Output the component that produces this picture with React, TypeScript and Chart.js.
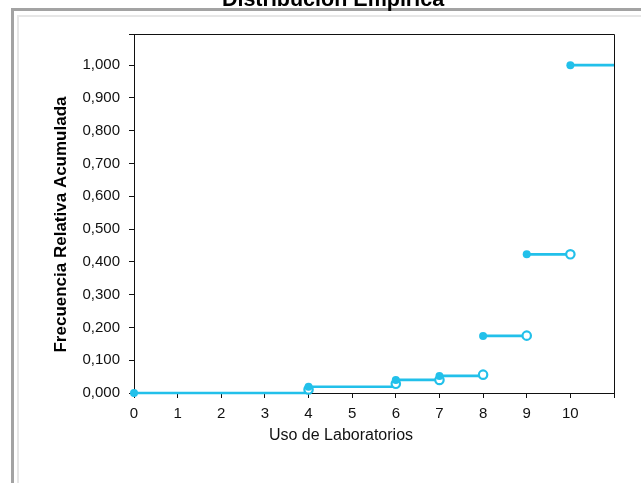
import React, { useEffect, useRef } from "react";
import { Chart, registerables } from "chart.js";

Chart.register(...registerables);

// ---- data ----
const stepStartX = [0, 4, 6, 7, 8, 9, 10];
const stepEndX = [4, 6, 7, 8, 9, 10, 11];
const cumFreq = [0, 0.019, 0.04, 0.052, 0.174, 0.423, 1.0];
const openX = [4, 6, 7, 8, 9, 10];
const openY = [0.011, 0.028, 0.04, 0.056, 0.175, 0.423];
const xTickValues = [0, 1, 2, 3, 4, 5, 6, 7, 8, 9, 10, 11];
const yTickValues = [0, 0.1, 0.2, 0.3, 0.4, 0.5, 0.6, 0.7, 0.8, 0.9, 1.0];
const xMax = 11;
const yMax = 1.095;

const chartTitle = "Distribución Empírica";
const xTitle = "Uso de Laboratorios";
const yTitle = "Frecuencia Relativa Acumulada";

const CYAN = "#22c0ea";
const FONT = "'Liberation Sans', Arial, sans-serif";

export default function App() {
  const ref = useRef<HTMLCanvasElement | null>(null);

  useEffect(() => {
    const canvas = ref.current;
    if (!canvas) return;

    const segmentSets = stepStartX.map((sx, i) => ({
      type: "line" as const,
      data: [
        { x: sx, y: cumFreq[i] },
        { x: stepEndX[i], y: cumFreq[i] },
      ],
      borderColor: CYAN,
      borderWidth: 2.7,
      pointRadius: 0,
      showLine: true,
      clip: false as any,
      order: 3,
    }));

    const filledSet = {
      type: "scatter" as const,
      data: stepStartX.map((sx, i) => ({ x: sx, y: cumFreq[i] })),
      backgroundColor: CYAN,
      borderColor: CYAN,
      pointRadius: 4,
      borderWidth: 0,
      clip: false as any,
      order: 1,
    };

    const openSet = {
      type: "scatter" as const,
      data: openX.map((ox, i) => ({ x: ox, y: openY[i] })),
      backgroundColor: "#ffffff",
      borderColor: CYAN,
      pointRadius: 4.2,
      borderWidth: 2.2,
      clip: false as any,
      order: 2,
    };

    const framePlugin = {
      id: "frame",
      beforeDraw(chart: any) {
        const ctx = chart.ctx;
        ctx.save();
        ctx.fillStyle = "#ffffff";
        ctx.fillRect(0, 0, chart.width, chart.height);
        ctx.strokeStyle = "#a3a3a3";
        ctx.lineWidth = 3;
        ctx.strokeRect(12.5, 9.5, 800, 700);
        ctx.strokeStyle = "#e6e6e6";
        ctx.lineWidth = 2;
        ctx.strokeRect(18, 16, 800, 700);
        ctx.restore();
      },
      afterDraw(chart: any) {
        const ctx = chart.ctx;
        const a = chart.chartArea;
        ctx.save();
        ctx.strokeStyle = "#111";
        ctx.lineWidth = 1;
        ctx.beginPath();
        ctx.moveTo(a.left, Math.round(a.top) + 0.5);
        ctx.lineTo(Math.round(a.right) + 0.5, Math.round(a.top) + 0.5);
        ctx.lineTo(Math.round(a.right) + 0.5, a.bottom);
        ctx.stroke();

        ctx.fillStyle = "#000";
        ctx.textAlign = "center";
        ctx.textBaseline = "alphabetic";
        ctx.font = `bold 21.5px ${FONT}`;
        ctx.fillText(chartTitle, 333, 6);

        ctx.font = `16px ${FONT}`;
        ctx.fillStyle = "#111";
        ctx.fillText(xTitle, 341, 439.5);

        ctx.translate(61, 224.5);
        ctx.rotate(-Math.PI / 2);
        ctx.textBaseline = "middle";
        ctx.font = `bold 17px ${FONT}`;
        ctx.fillStyle = "#000";
        ctx.fillText(yTitle, 0, 0);
        ctx.restore();
      },
    };

    const chart = new Chart(canvas, {
      type: "scatter",
      data: { datasets: [...segmentSets, openSet, filledSet] as any },
      options: {
        animation: false,
        responsive: false,
        events: [],
        layout: { padding: { left: 0, top: 34, right: 27, bottom: 0 } },
        plugins: {
          legend: { display: false },
          title: { display: false },
          tooltip: { enabled: false },
        },
        scales: {
          x: {
            type: "linear",
            min: 0,
            max: xMax,
            afterBuildTicks: (scale: any) => {
              scale.ticks = xTickValues.map((v) => ({ value: v }));
            },
            afterFit: (scale: any) => {
              scale.height = 90;
            },
            ticks: {
              autoSkip: false,
              maxRotation: 0,
              padding: 7,
              color: "#111",
              font: { family: FONT, size: 15 },
              callback: (v: any) => (Number(v) === xMax ? "" : String(v)),
            },
            grid: {
              display: true,
              drawOnChartArea: false,
              drawTicks: true,
              tickLength: 5,
              color: "#111",
            },
            border: { display: true, color: "#111", width: 1 },
          },
          y: {
            type: "linear",
            min: 0,
            max: yMax,
            afterBuildTicks: (scale: any) => {
              scale.ticks = [...yTickValues, yMax].map((v) => ({ value: v }));
            },
            afterFit: (scale: any) => {
              scale.width = 134;
            },
            ticks: {
              autoSkip: false,
              padding: 9,
              color: "#111",
              font: { family: FONT, size: 15 },
              callback: (v: any) =>
                Number(v) > 1.01 ? "" : Number(v).toFixed(3).replace(".", ","),
            },
            grid: {
              display: true,
              drawOnChartArea: false,
              drawTicks: true,
              tickLength: 5,
              color: "#111",
            },
            border: { display: true, color: "#111", width: 1 },
          },
        },
      } as any,
      plugins: [framePlugin],
    });

    return () => chart.destroy();
  }, []);

  return (
    <div style={{ position: "fixed", left: 0, top: 0, width: 641, height: 483, overflow: "hidden", background: "#fff" }}>
      <canvas ref={ref} width={641} height={483} style={{ display: "block", width: 641, height: 483 }} />
    </div>
  );
}
